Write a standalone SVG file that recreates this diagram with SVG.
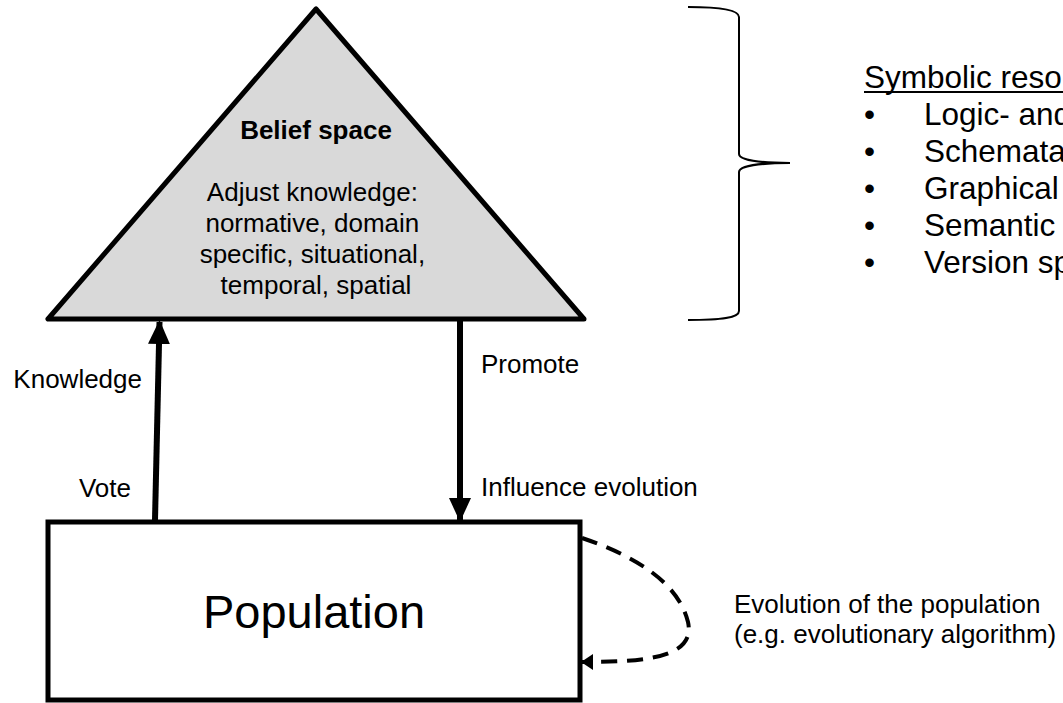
<svg xmlns="http://www.w3.org/2000/svg" width="1063" height="703" viewBox="0 0 1063 703">
  <defs>
    <style>
      text { font-family: "Liberation Sans", Arial, sans-serif; fill: #000; }
      .body { font-size: 26px; }
      .title { font-size: 26px; font-weight: bold; }
      .big { font-size: 47px; }
      .list { font-size: 31.5px; }
      .edge { fill: none; stroke: #000; stroke-width: 6; }
      .dash { fill: none; stroke: #000; stroke-width: 4; stroke-dasharray: 16 10; }
      .brace { fill: none; stroke: #000; stroke-width: 2; }
    </style>
    <marker id="head" viewBox="0 0 24 22" refX="22" refY="11" markerWidth="24" markerHeight="22" markerUnits="userSpaceOnUse" orient="auto">
      <path d="M0,0 L24,11 L0,22 Z" fill="#000"/>
    </marker>
    <marker id="headSmall" viewBox="0 0 12 16" refX="11" refY="8" markerWidth="12" markerHeight="16" markerUnits="userSpaceOnUse" orient="auto">
      <path d="M0,0 L12,8 L0,16 Z" fill="#000"/>
    </marker>
  </defs>

  <!-- Belief space -->
  <g id="belief-space">
    <polygon points="316,9 48,319 584,319" fill="#d9d9d9" stroke="#000" stroke-width="5" stroke-linejoin="round"/>
    <text class="title" x="316" y="139" text-anchor="middle">Belief space</text>
    <text class="body" text-anchor="middle">
      <tspan x="316" y="201">Adjust knowledge:</tspan>
      <tspan x="316" y="232">normative, domain</tspan>
      <tspan x="316" y="263">specific, situational,</tspan>
      <tspan x="316" y="294">temporal, spatial</tspan>
    </text>
  </g>

  <!-- Population -->
  <g id="population">
    <rect x="48" y="522" width="532" height="178" fill="#fff" stroke="#000" stroke-width="5"/>
    <text class="big" x="314" y="628" text-anchor="middle">Population</text>
  </g>

  <!-- Symbolic resources (brace and list) -->
  <g id="symbolic-resources">
    <path class="brace" d="M688,7 C722,7 739,10 739,17 L739,154 C739,160 760,163 790,163 C760,163 739,166 739,172 L739,311 C739,318 722,320 688,320"/>
    <text class="list" x="864" y="88">Symbolic reso</text>
    <line x1="864" y1="92" x2="1063" y2="92" stroke="#000" stroke-width="2"/>
    <text class="list" x="864" y="125">•</text>
    <text class="list" x="924" y="125">Logic- and</text>
    <text class="list" x="864" y="162">•</text>
    <text class="list" x="924" y="162">Schemata</text>
    <text class="list" x="864" y="199">•</text>
    <text class="list" x="924" y="199">Graphical</text>
    <text class="list" x="864" y="236">•</text>
    <text class="list" x="924" y="236">Semantic</text>
    <text class="list" x="864" y="273">•</text>
    <text class="list" x="924" y="273">Version sp</text>
  </g>

  <!-- Connectors -->
  <g id="connectors">
    <line class="edge" x1="155" y1="520" x2="159.5" y2="322" marker-end="url(#head)"/>
    <line class="edge" x1="460" y1="321" x2="460" y2="520" marker-end="url(#head)"/>
    <path class="dash" d="M582,538 C635,556 678,582 688,622 C696,658 645,662 582,662" marker-end="url(#headSmall)"/>
  </g>

  <!-- Connector labels -->
  <g id="labels">
    <text class="body" x="142" y="388" text-anchor="end">Knowledge</text>
    <text class="body" x="131" y="497" text-anchor="end">Vote</text>
    <text class="body" x="481" y="373">Promote</text>
    <text class="body" x="481" y="496">Influence evolution</text>
    <text class="body" x="734" y="613">Evolution of the population</text>
    <text class="body" x="734" y="643">(e.g. evolutionary algorithm)</text>
  </g>
</svg>
